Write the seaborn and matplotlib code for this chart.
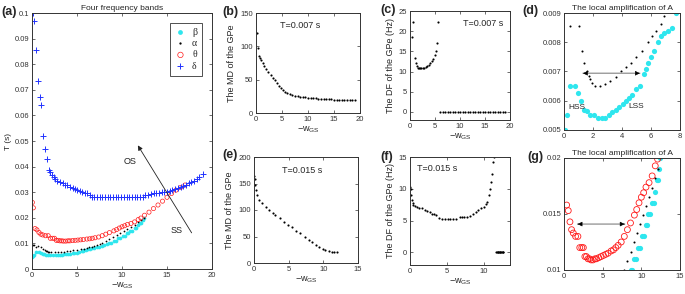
import matplotlib
matplotlib.use("Agg")
import matplotlib.pyplot as plt
from matplotlib.ticker import FuncFormatter
import seaborn as sns

# ---- panel (a), (d), (g): four frequency bands, T (s) vs -w_GS ----
beta_x = [0.0, 0.07, 0.23, 0.42, 0.77, 0.95, 1.19, 1.35, 1.58, 1.81, 2.05, 2.35, 2.63, 2.86,
          3.1, 3.33, 3.56, 3.8, 4.05, 4.26, 4.5, 4.7, 4.95, 5.26, 5.5, 5.65, 5.82, 6.0, 6.23,
          6.47, 6.7, 6.93, 7.2, 7.47, 7.74, 8.0, 8.3, 8.6, 8.8, 9.1, 9.3, 9.6, 9.8, 10.1, 10.3,
          10.55, 10.7, 10.9, 11.1, 11.4, 11.6, 11.8, 12.0, 12.15, 12.3, 12.4]
beta_y = [0.0045, 0.005, 0.0055, 0.0065, 0.0065, 0.00625, 0.006, 0.0057, 0.00565, 0.0055,
          0.0055, 0.0054, 0.0054, 0.0054, 0.0055, 0.0056, 0.0057, 0.0058, 0.0059, 0.006,
          0.0061, 0.0062, 0.0064, 0.0065, 0.0069, 0.0071, 0.0073, 0.0075, 0.0077, 0.008,
          0.0082, 0.0083, 0.0084, 0.0085, 0.009, 0.0093, 0.0097, 0.010, 0.010, 0.011, 0.011,
          0.012, 0.012, 0.013, 0.013, 0.014, 0.014, 0.015, 0.015, 0.016, 0.016, 0.017, 0.018,
          0.018, 0.019, 0.020]

alpha_x = [0.0, 0.1, 0.25, 0.42, 0.7, 1.05, 1.23, 1.4, 1.58, 1.7, 1.81, 1.93, 2.16, 2.5, 2.86,
           3.2, 3.56, 3.9, 4.26, 4.6, 4.95, 5.4, 5.77, 6.1, 6.35, 6.7, 6.93, 7.2, 7.5, 7.8, 8.2,
           8.6, 9.0, 9.4, 9.8, 10.2, 10.6, 11.0, 11.4, 11.8, 12.1, 12.4]
alpha_y = [0.0093, 0.0093, 0.0092, 0.00855, 0.0091, 0.00855, 0.00769, 0.00729, 0.007, 0.00685,
           0.00673, 0.0066, 0.00652, 0.00652, 0.00656, 0.00667, 0.00681, 0.007, 0.00714, 0.0073,
           0.0075, 0.0077, 0.008, 0.0082, 0.0084, 0.00864, 0.0089, 0.0093, 0.0096, 0.010,
           0.0108, 0.0116, 0.0125, 0.0133, 0.0141, 0.0149, 0.0157, 0.0165, 0.0173, 0.0182,
           0.019, 0.020]

theta_x = [0.04, 0.15, 0.34, 0.55, 0.77, 0.98, 1.2, 1.5, 1.8, 2.04, 2.3, 2.5, 2.7, 2.9, 3.1,
           3.3, 3.5, 3.75, 4.0, 4.2, 4.5, 4.8, 5.1, 5.4, 5.7, 6.1, 6.4, 6.7, 7.0, 7.4, 7.8, 8.2,
           8.6, 9.1, 9.4, 9.7, 10.0, 10.3, 10.6, 11.0, 11.4, 11.8, 12.1, 12.5, 13.0, 13.5, 14.0,
           14.5, 15.0, 15.5, 16.0, 16.5, 17.0]
theta_y = [0.026, 0.0239, 0.0158, 0.0153, 0.0143, 0.0136, 0.0133, 0.013, 0.013, 0.012, 0.012,
           0.012, 0.0112, 0.0112, 0.011, 0.011, 0.0109, 0.0109, 0.011, 0.011, 0.0111, 0.0112,
           0.0113, 0.0114, 0.0115, 0.0117, 0.0118, 0.012, 0.0122, 0.0125, 0.013, 0.0136, 0.0142,
           0.0149, 0.0154, 0.016, 0.0165, 0.0169, 0.0174, 0.0178, 0.0184, 0.0193, 0.0199, 0.021,
           0.0222, 0.0236, 0.025, 0.0265, 0.028, 0.0295, 0.0308, 0.0318, 0.0328]

delta_x = [0.07, 0.22, 0.44, 0.67, 0.85, 1.04, 1.22, 1.4, 1.66, 1.85, 2.0, 2.2, 2.4, 2.6, 2.8,
           3.1, 3.4, 3.7, 3.9, 4.2, 4.5, 4.8, 5.0, 5.3, 5.6, 5.9, 6.1, 6.4, 6.65, 6.9, 7.2, 7.5,
           7.8, 8.1, 8.4, 8.7, 9.0, 9.3, 9.6, 9.9, 10.2, 10.5, 10.8, 11.1, 11.4, 11.7, 12.0,
           12.3, 12.6, 12.9, 13.2, 13.5, 13.8, 14.1, 14.4, 14.7, 15.0, 15.3, 15.6, 15.9, 16.2,
           16.5, 16.8, 17.1, 17.4, 17.7, 18.0, 18.3, 18.6, 19.0]
delta_y = [0.1, 0.0967, 0.0854, 0.0733, 0.0672, 0.064, 0.052, 0.0469, 0.0429, 0.0388, 0.038,
           0.0368, 0.036, 0.0352, 0.0345, 0.034, 0.0335, 0.033, 0.0327, 0.0322, 0.0318, 0.0314,
           0.031, 0.0306, 0.0302, 0.0298, 0.0295, 0.029, 0.0282, 0.0282, 0.0282, 0.0282, 0.0282,
           0.0282, 0.0282, 0.0282, 0.0282, 0.0282, 0.0282, 0.0282, 0.0282, 0.0282, 0.0282,
           0.0282, 0.0282, 0.0282, 0.0282, 0.0282, 0.029, 0.029, 0.0294, 0.0295, 0.0295,
           0.0297, 0.0299, 0.030, 0.030, 0.0303, 0.0308, 0.0313, 0.0318, 0.032, 0.0325, 0.033,
           0.0334, 0.0338, 0.0344, 0.0352, 0.036, 0.037]

# ---- panel (b): MD of the GPe, T = 0.007 s ----
b_x = [0.1, 0.3, 0.6, 0.8, 1.0, 1.3, 1.6, 2.0, 2.4, 2.8, 3.2, 3.6, 4.0, 4.4, 4.8, 5.2, 5.6, 6.0,
       6.5, 7.0, 7.5, 8.0, 8.5, 9.0, 9.5, 10.0, 10.5, 11.0, 11.5, 12.0, 12.5, 13.0, 13.5, 14.0,
       14.5, 15.0, 15.5, 16.0, 16.5, 17.0, 17.5, 18.0, 18.5, 19.0]
b_y = [120, 97, 85, 82, 79, 75, 71, 66, 61, 57, 53, 49, 45, 41, 38, 34, 31, 29.5, 28, 27, 26,
       25, 24.5, 24, 23.5, 23, 22.5, 22, 21.8, 21.5, 21.2, 21, 20.8, 20.6, 20.4, 20.2, 20, 19.9,
       19.8, 19.7, 19.6, 19.5, 19.4, 19.3]

# ---- panel (c): DF of the GPe, T = 0.007 s ----
c_x = [0.3, 0.5, 1.0, 1.2, 1.4, 1.6, 1.8, 2.0, 2.2, 2.5, 2.8, 3.1, 3.4, 3.7, 4.0, 4.3, 4.6, 4.9,
       5.1, 5.3, 5.6, 6.0, 6.5, 7.0, 7.5, 8.0, 8.5, 9.0, 9.5, 10.0, 10.5, 11.0, 11.5, 12.0, 12.5,
       13.0, 13.5, 14.0, 14.5, 15.0, 15.5, 16.0, 16.5, 17.0, 17.5, 18.0, 18.5, 19.0]
c_y = [18.6, 22.3, 13.3, 12.0, 11.3, 11.0, 10.9, 10.8, 10.8, 10.9, 11.0, 11.2, 11.4, 11.7, 12.1,
       12.6, 13.2, 14.0, 15.0, 17.0, 22.3, 0, 0, 0, 0, 0, 0, 0, 0, 0, 0, 0, 0, 0, 0, 0, 0, 0, 0,
       0, 0, 0, 0, 0, 0, 0, 0, 0]

# ---- panel (e): MD of the GPe, T = 0.015 s ----
e_x = [0.02, 0.1, 0.15, 0.24, 0.4, 0.7, 1.2, 1.7, 2.2, 2.7, 3.1, 3.7, 4.3, 4.9, 5.5, 6.1, 6.7,
       7.3, 7.9, 8.4, 8.9, 9.4, 9.9, 10.3, 10.8, 11.2, 11.6, 12.0]
e_y = [165, 159, 147, 137.5, 128, 119, 112.5, 106, 100, 95, 91, 84, 78, 72, 67, 61, 56, 50, 44,
       39, 34, 30, 26, 24, 22, 21, 20.5, 20]

# ---- panel (f): DF of the GPe, T = 0.015 s ----
f_x = [0.05, 0.1, 0.14, 0.23, 0.35, 0.45, 0.7, 0.9, 1.2, 1.6, 2.0, 2.3, 2.7, 3.0, 3.3, 3.6, 3.9,
       4.3, 4.7, 5.1, 5.5, 5.9, 6.3, 6.8, 7.1, 7.4, 7.7, 8.1, 8.6, 9.0, 9.3, 9.7, 10.0, 10.3,
       10.5, 10.7, 10.9, 11.05, 11.1, 11.3, 11.4, 11.7, 11.8, 11.9, 12.0, 12.1, 12.2, 12.3,
       12.4, 12.5, 12.6, 12.7]
f_y = [10.2, 10.0, 9.0, 8.2, 7.8, 7.4, 7.3, 7.2, 7.0, 6.9, 6.7, 6.5, 6.3, 6.1, 6.0, 5.8, 5.4,
       5.3, 5.3, 5.3, 5.3, 5.3, 5.3, 5.6, 5.6, 5.6, 5.6, 5.7, 6.1, 6.3, 6.6, 6.9, 7.2, 7.6, 7.9,
       9.0, 10.0, 11.1, 12.4, 14.2, 15.0, 0, 0, 0, 0, 0, 0, 0, 0, 0, 0, 0]

CYAN = "#2ee6ee"
BLUE = "#2233ff"
RED = "#ff1a1a"
XLAB = r"$\mathregular{-w_{GS}}$"

sns.set_style("ticks")
plt.rcParams["font.family"] = ["Liberation Sans", "DejaVu Sans"]
plt.rcParams.update({
    "xtick.direction": "in", "ytick.direction": "in",
    "xtick.top": True, "ytick.right": True,
    "xtick.major.size": 2.5, "ytick.major.size": 2.5,
    "xtick.major.width": 0.5, "ytick.major.width": 0.5,
    "xtick.labelsize": 5.5, "ytick.labelsize": 5.5,
    "xtick.color": "#333333", "ytick.color": "#333333",
    "axes.edgecolor": "#333333", "axes.linewidth": 0.7,
    "xtick.major.pad": 2.5, "ytick.major.pad": 2,
})

fig = plt.figure(figsize=(6.85, 2.94), dpi=100)
W, H = 685.0, 294.0


def add_ax(x0, y0, x1, y1):
    return fig.add_axes([x0 / W, 1 - y1 / H, (x1 - x0) / W, (y1 - y0) / H])


ax_a = add_ax(32, 13, 212, 269)
ax_b = add_ax(256, 13, 360, 113)
ax_c = add_ax(410, 11, 510, 120)
ax_d = add_ax(564, 13, 680, 130)
ax_e = add_ax(254, 157, 358, 263)
ax_f = add_ax(410, 157, 510, 265)
ax_g = add_ax(564, 158, 680, 270)

gfmt = FuncFormatter(lambda v, p: "%g" % v)


def bands(ax, sb, sa, st, sd, lw_t):
    sns.scatterplot(x=beta_x, y=beta_y, marker="o", color=CYAN, edgecolor=CYAN, s=sb,
                    linewidth=0, ax=ax, label="β")
    sns.scatterplot(x=alpha_x, y=alpha_y, marker="o", color="black", edgecolor="black", s=sa,
                    linewidth=0, ax=ax, label="α")
    sns.scatterplot(x=theta_x, y=theta_y, marker="o", color=RED, facecolor="none",
                    edgecolor=RED, s=st, linewidth=lw_t, ax=ax, label="θ")
    if sd:
        sns.scatterplot(x=delta_x, y=delta_y, marker="+", color=BLUE, s=sd, linewidth=0.7,
                        ax=ax, label="δ")


def dots(ax, xs, ys):
    sns.scatterplot(x=xs, y=ys, marker="o", color="black", s=2.4, linewidth=0, ax=ax)


# (a)
bands(ax_a, 7, 1.6, 9, 14, 0.5)
ax_a.set_xlim(0, 20)
ax_a.set_ylim(0, 0.1)
ax_a.set_xticks([0, 5, 10, 15, 20])
ax_a.set_yticks([0, 0.01, 0.02, 0.03, 0.04, 0.05, 0.06, 0.07, 0.08, 0.09, 0.1])
ax_a.yaxis.set_major_formatter(gfmt)
ax_a.set_title("Four frequency bands", fontsize=6, pad=2)
ax_a.set_ylabel("T (s)", fontsize=6, labelpad=2)
ax_a.set_xlabel(XLAB, fontsize=6.5, labelpad=1)
leg = ax_a.legend(loc="upper right", bbox_to_anchor=(0.945, 0.962), borderaxespad=0,
                  prop={"family": "Liberation Serif", "size": 7}, fancybox=False,
                  edgecolor="#333333", framealpha=1, handletextpad=0.6, handlelength=1.2,
                  labelspacing=0.25, borderpad=0.5, markerscale=1.3)
leg.get_frame().set_linewidth(0.6)
ax_a.annotate("", xy=(11.6, 0.0492), xytext=(17.9, 0.0132),
              arrowprops=dict(arrowstyle="-|>", color="#222222", lw=0.6, mutation_scale=7))
ax_a.text(10.9, 0.0418, "OS", fontsize=6.5, ha="center", va="center", color="#222222")
ax_a.text(16.1, 0.0152, "SS", fontsize=6.5, ha="center", va="center", color="#222222")

# (b)
dots(ax_b, b_x, b_y)
ax_b.set_xlim(0, 20)
ax_b.set_ylim(0, 150)
ax_b.set_xticks([0, 5, 10, 15, 20])
ax_b.set_yticks([0, 50, 100, 150])
ax_b.set_ylabel("The MD of the GPe", fontsize=6.5, labelpad=3)
ax_b.set_xlabel(XLAB, fontsize=6.5, labelpad=1)
ax_b.text(8.5, 132, "T=0.007 s", fontsize=6.5, ha="center", va="center")

# (c)
dots(ax_c, c_x, c_y)
ax_c.set_xlim(0, 20)
ax_c.set_ylim(-2, 25)
ax_c.set_xticks([0, 5, 10, 15, 20])
ax_c.set_yticks([0, 5, 10, 15, 20, 25])
ax_c.set_ylabel("The DF of the GPe (Hz)", fontsize=6.5, labelpad=3)
ax_c.set_xlabel(XLAB, fontsize=6.5, labelpad=1)
ax_c.text(14.6, 22, "T=0.007 s", fontsize=6.5, ha="center", va="center")

# (d)
bands(ax_d, 14, 2.2, 0, 0, 0.5)
ax_d.get_legend().remove()
ax_d.set_xlim(0, 8)
ax_d.set_ylim(0.005, 0.009)
ax_d.set_xticks([0, 2, 4, 6, 8])
ax_d.set_yticks([0.005, 0.006, 0.007, 0.008, 0.009])
ax_d.yaxis.set_major_formatter(gfmt)
ax_d.set_title("The local amplification of A", fontsize=6, pad=2)

# (e)
dots(ax_e, e_x, e_y)
ax_e.set_xlim(0, 15)
ax_e.set_ylim(0, 200)
ax_e.set_xticks([0, 5, 10, 15])
ax_e.set_yticks([0, 50, 100, 150, 200])
ax_e.set_ylabel("The MD of the GPe", fontsize=6.5, labelpad=3)
ax_e.set_xlabel(XLAB, fontsize=6.5, labelpad=1)
ax_e.text(6.9, 175, "T=0.015 s", fontsize=6.5, ha="center", va="center")

# (f)
dots(ax_f, f_x, f_y)
ax_f.set_xlim(0, 13.6)
ax_f.set_ylim(-2, 15)
ax_f.set_xticks([0, 5, 10])
ax_f.set_yticks([0, 5, 10, 15])
ax_f.set_ylabel("The DF of the GPe (Hz)", fontsize=6.5, labelpad=3)
ax_f.set_xlabel(XLAB, fontsize=6.5, labelpad=1)
ax_f.text(3.7, 13.2, "T=0.015 s", fontsize=6.5, ha="center", va="center")

# (g)
bands(ax_g, 14, 2.2, 18, 0, 0.6)
ax_g.get_legend().remove()
ax_g.set_xlim(0, 15)
ax_g.set_ylim(0.01, 0.02)
ax_g.set_xticks([0, 5, 10, 15])
ax_g.set_yticks([0.01, 0.015, 0.02])
ax_g.yaxis.set_major_formatter(gfmt)
ax_g.set_title("The local amplification of A", fontsize=6, pad=2)

# double arrows in (d) and (g)
for ax, xl, xr, yy in [(ax_d, 1.12, 5.42, 0.00694), (ax_g, 1.4, 8.2, 0.0141)]:
    ax.annotate("", xy=(xr, yy), xytext=(xl, yy),
                arrowprops=dict(arrowstyle="-", color="#9a9a9a", lw=1.0))
    span = (xr - xl) * 0.12
    ax.annotate("", xy=(xl, yy), xytext=(xl + span, yy),
                arrowprops=dict(arrowstyle="-|>", color="black", lw=0.4, mutation_scale=7))
    ax.annotate("", xy=(xr, yy), xytext=(xr - span, yy),
                arrowprops=dict(arrowstyle="-|>", color="black", lw=0.4, mutation_scale=7))
ax_d.text(0.9, 0.00578, "HSS", fontsize=6, ha="center", va="center")
ax_d.text(4.95, 0.00582, "LSS", fontsize=6, ha="center", va="center")

for ax in [ax_a, ax_b, ax_c, ax_d, ax_e, ax_f, ax_g]:
    for sp in ax.spines.values():
        sp.set_visible(True)

# panel letters
for lab, px, py in [("(a)", 1, 12), ("(b)", 222, 12), ("(c)", 380, 10), ("(d)", 522, 11),
                    ("(e)", 222, 155), ("(f)", 380, 157), ("(g)", 527, 157)]:
    fig.text(px / W, 1 - py / H, lab, fontsize=9, fontweight="bold", ha="left", va="center")

fig.savefig("out.png", dpi=100)
